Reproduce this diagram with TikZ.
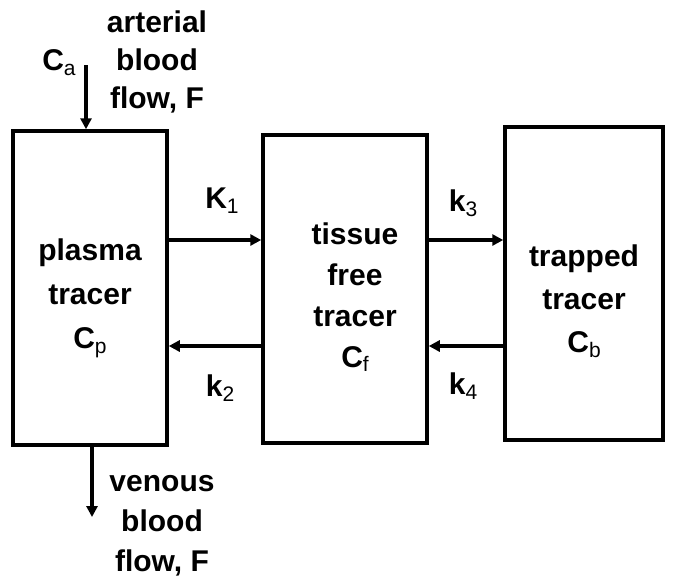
\documentclass[tikz,border=0pt]{standalone}
\usepackage{fontspec}
\setmainfont{Liberation Sans}
\usetikzlibrary{arrows.meta}
\newcommand{\sub}[1]{\raisebox{-0.3ex}{\fontsize{21}{21}\selectfont\mdseries #1}}

\begin{document}
\begin{tikzpicture}[x=1pt,y=-1pt,
    box/.style={draw, line width=3.5pt, inner sep=0pt},
    txt/.style={align=center, font=\fontsize{30}{44}\selectfont\bfseries},
    flow/.style={line width=3.5pt, -{Triangle[length=11pt,width=11pt]}}]
    \useasboundingbox (0,0) rectangle (676,587);
    % compartments
    \node[box, minimum width=154pt, minimum height=314pt] (plasma) at (90,288) {};
    \node[box, minimum width=164pt, minimum height=308pt] (tissue) at (345,289) {};
    \node[box, minimum width=158pt, minimum height=313pt] (trapped) at (584,283.5) {};
    \node[txt] (plasmatxt) at (90,298) {plasma\\tracer\\C\sub{p}};
    \node[txt, font=\fontsize{30}{41}\selectfont\bfseries] (tissuetxt) at (355,297) {tissue\\free\\tracer\\C\sub{f}};
    \node[txt, font=\fontsize{30}{43}\selectfont\bfseries] (trappedtxt) at (584,301) {trapped\\tracer\\C\sub{b}};
    % exchange between compartments
    \coordinate (fwd) at (0,240);
    \coordinate (back) at (0,346);
    \draw[flow] (plasma.east |- fwd) -- (tissue.west |- fwd);
    \draw[flow] (tissue.west |- back) -- (plasma.east |- back);
    \draw[flow] (tissue.east |- fwd) -- (trapped.west |- fwd);
    \draw[flow] (trapped.west |- back) -- (tissue.east |- back);
    \node[txt] (K1) at (222,201) {K\sub{1}};
    \node[txt] (k2) at (220,388) {k\sub{2}};
    \node[txt] (k3) at (463,203) {k\sub{3}};
    \node[txt] (k4) at (463,386) {k\sub{4}};
    % blood in and out
    \coordinate (arttop) at (86,65);
    \coordinate (venend) at (92,517);
    \draw[flow] (arttop) -- (arttop |- plasma.north);
    \draw[flow] (venend |- plasma.south) -- (venend);
    \node[txt] (Ca) at (59,63) {C\sub{a}};
    \node[txt, font=\fontsize{30}{38}\selectfont\bfseries] (arterial) at (157,62) {arterial\\blood\\flow, F};
    \node[txt, font=\fontsize{30}{40}\selectfont\bfseries] (venous) at (162,526) {venous\\blood\\flow, F};
\end{tikzpicture}
\end{document}
